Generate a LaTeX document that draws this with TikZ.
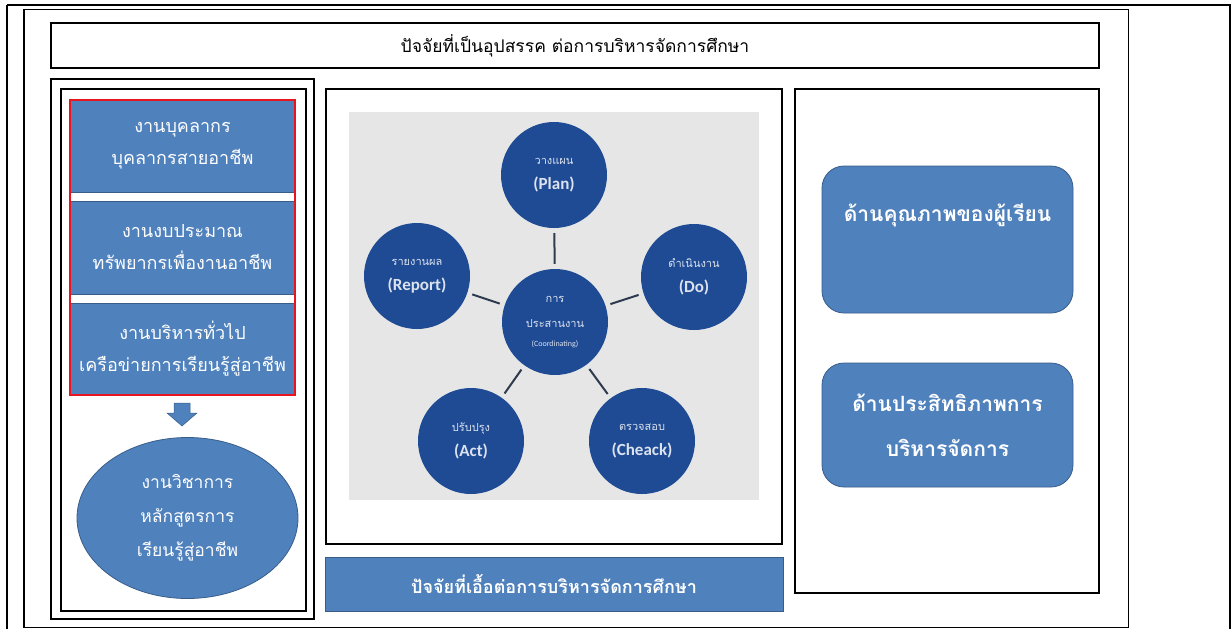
\documentclass[tikz,border=0pt]{standalone}
\usepackage{fontspec}
\setmainfont[Script=Thai]{Loma}
\newfontfamily\eng{Carlito}
\usetikzlibrary{shapes.geometric}
\definecolor{offblue}{HTML}{4F81BD}
\definecolor{offedge}{HTML}{385D8A}
\definecolor{circblue}{HTML}{1E4B94}
\definecolor{graybg}{HTML}{E6E6E6}
\definecolor{ctext}{HTML}{DCE2EE}
\definecolor{cline}{HTML}{2E3B4E}
\definecolor{redline}{HTML}{E8141E}
\begin{document}
\begin{tikzpicture}[x=1pt,y=-1pt,
  frame/.style={draw=black,line width=1.6pt},
  thinframe/.style={draw=black,line width=1.2pt},
  bluebox/.style={draw=offedge,line width=0.8pt,fill=offblue,text=white,align=center,inner sep=0pt},
  circ/.style={circle,fill=circblue,minimum size=106pt,inner sep=0pt,align=center,text=ctext,font=\fontsize{11}{25}\selectfont},
  link/.style={draw=cline,line width=2pt,shorten <=5pt,shorten >=5pt},
  blockarrow/.style={fill=offblue,draw=offedge,line width=0.5pt,line join=miter},
]
\useasboundingbox (0,0) rectangle (1231,629);
% outer table lines
\draw[thinframe] (7,5) -- (1231,5);
\draw[thinframe] (7,5) -- (7,629);
\draw[thinframe] (1230,5) -- (1230,629);
% inner frame
\draw[frame] (24,9.5) rectangle (1128.5,627.5);
% title
\node[frame,minimum width=1048pt,minimum height=45pt,inner sep=0pt,font=\fontsize{17.5}{20}\selectfont] (title) at (575,45.5) {ปัจจัยที่เป็นอุปสรรค ต่อการบริหารจัดการศึกษา};
% left panel
\draw[frame] (51,79) rectangle (314,619);
\draw[frame] (61,89) rectangle (306,611);
\node[bluebox,minimum width=225pt,minimum height=92pt,font=\fontsize{18}{32}\selectfont] (b1) at (182.5,146) {งานบุคลากร\\บุคลากรสายอาชีพ};
\node[bluebox,minimum width=225pt,minimum height=93pt,font=\fontsize{18}{32}\selectfont] (b2) at (182.5,247.5) {งานงบประมาณ\\ทรัพยากรเพื่องานอาชีพ};
\node[bluebox,minimum width=225pt,minimum height=92pt,font=\fontsize{18}{32}\selectfont] (b3) at (182.5,349) {งานบริหารทั่วไป\\เครือข่ายการเรียนรู้สู่อาชีพ};
\draw[draw=redline,line width=1.6pt] (70,100) rectangle (295,395);
\node[ellipse,bluebox,minimum width=221pt,minimum height=161pt,font=\fontsize{17.5}{34}\selectfont] (ell) at (187.5,518) {งานวิชาการ\\หลักสูตรการ\\เรียนรู้สู่อาชีพ};
% block arrow
\draw[blockarrow] (174,403) -- (190,403) -- (190,413) -- (197,413) -- (182,426) -- (167,413) -- (174,413) -- cycle;
% middle panel
\draw[frame] (326,89) rectangle (782,544);
\fill[graybg] (349,112) rectangle (759,500);
\node[circ] (plan) at (554,175) {วางแผน\\{\eng\bfseries\fontsize{17}{17}\selectfont (Plan)}};
\node[circ] (report) at (417,276) {รายงานผล\\{\eng\bfseries\fontsize{17}{17}\selectfont (Report)}};
\node[circ] (do) at (694,277) {ดำเนินงาน\\{\eng\bfseries\fontsize{17}{17}\selectfont (Do)}};
\node[circ] (act) at (471,441) {ปรับปรุง\\{\eng\bfseries\fontsize{17}{17}\selectfont (Act)}};
\node[circ] (check) at (642,441) {ตรวจสอบ\\{\eng\bfseries\fontsize{17}{17}\selectfont (Cheack)}};
\node[circ] (coord) at (555,322) {การ\\ประสานงาน\\[-6pt]{\eng\fontsize{8}{9}\selectfont (Coordinating)}};
\draw[link] (coord) -- (plan);
\draw[link] (coord) -- (report);
\draw[link] (coord) -- (do);
\draw[link] (coord) -- (act);
\draw[link] (coord) -- (check);
% bottom bar
\node[bluebox,minimum width=458pt,minimum height=54pt,font=\bfseries\fontsize{18}{20}\selectfont] (enab) at (554,584) {ปัจจัยที่เอื้อต่อการบริหารจัดการศึกษา};
% right panel
\draw[frame] (795,89) rectangle (1099,593);
\node[bluebox,rounded corners=22pt,minimum width=251pt,minimum height=147pt,font=\bfseries\fontsize{21}{45}\selectfont] (q1) at (947.5,239.5) {ด้านคุณภาพของผู้เรียน\\[8pt]};
\node[bluebox,rounded corners=22pt,minimum width=251pt,minimum height=124pt,font=\bfseries\fontsize{21}{45}\selectfont] (q2) at (947.5,425) {ด้านประสิทธิภาพการ\\บริหารจัดการ};
\end{tikzpicture}
\end{document}
